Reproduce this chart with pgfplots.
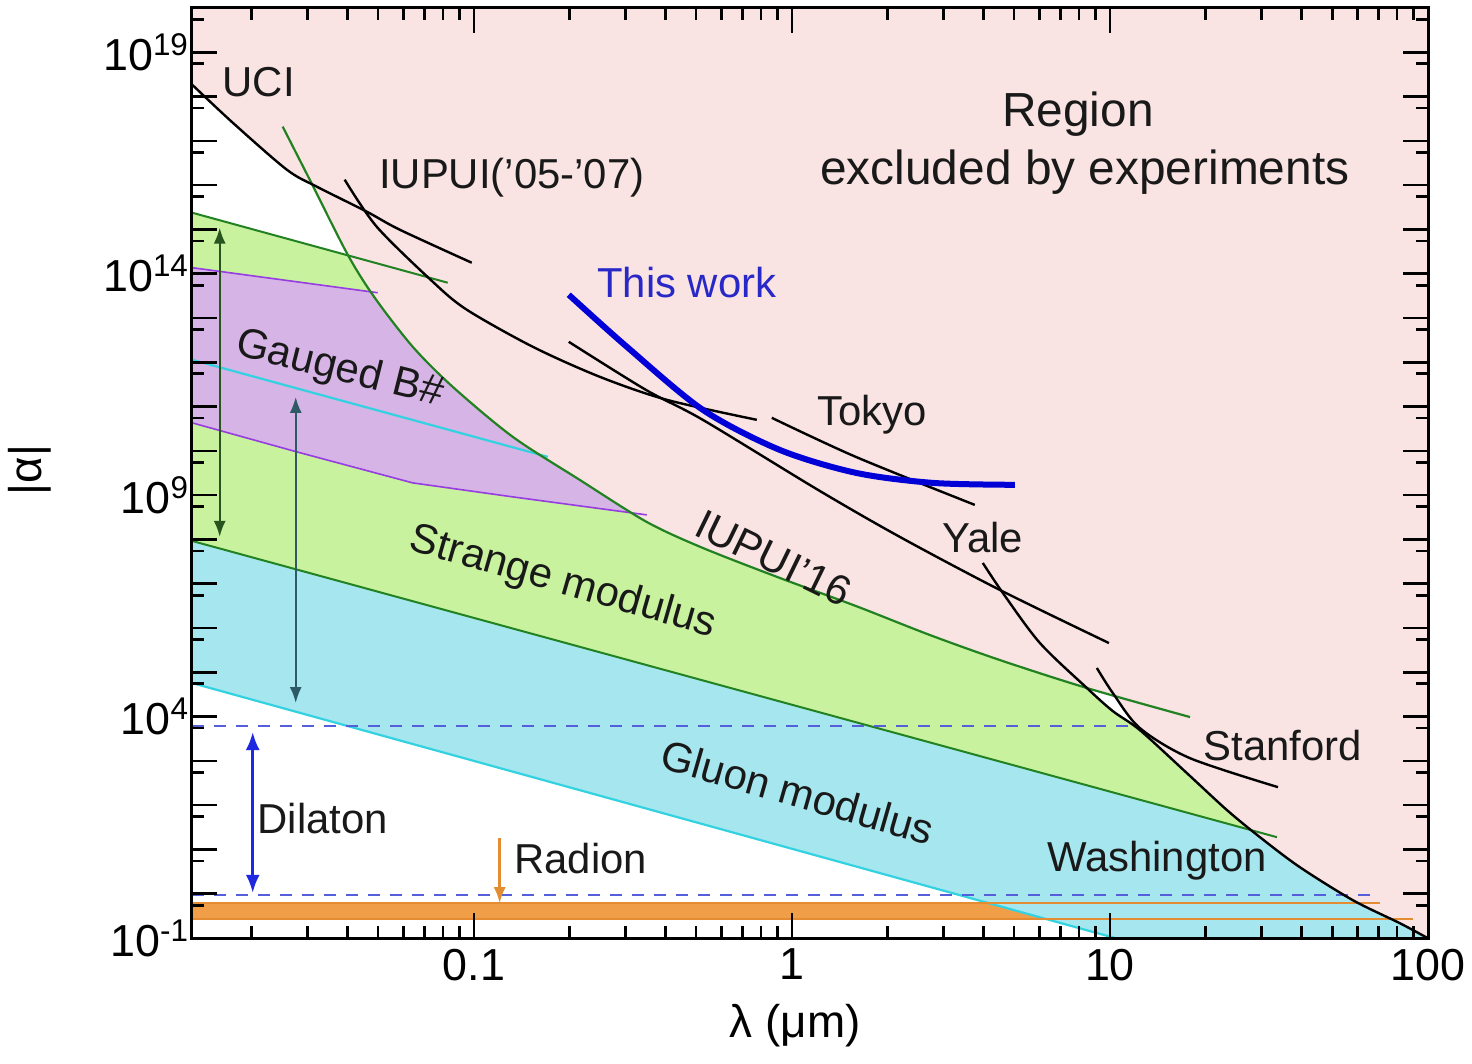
\documentclass[border=0pt]{standalone}
\usepackage{fontspec}
\setmainfont{Liberation Sans}
\usepackage{pgfplots}
\pgfplotsset{compat=1.18}
\usetikzlibrary{arrows.meta}

\definecolor{pinkfill}{RGB}{249,227,227}
\definecolor{greenfill}{RGB}{200,242,158}
\definecolor{cyanfill}{RGB}{166,230,238}
\definecolor{purplefill}{RGB}{214,180,230}
\definecolor{orangefill}{RGB}{240,158,72}
\definecolor{darkgreenline}{RGB}{34,130,34}
\definecolor{cyanline}{RGB}{50,210,225}
\definecolor{purpleline}{RGB}{150,60,225}
\definecolor{dashblue}{RGB}{85,95,220}
\definecolor{workblue}{RGB}{0,0,215}
\definecolor{worktext}{RGB}{40,40,200}
\definecolor{orangeline}{RGB}{228,140,50}
\definecolor{arrowgreen}{RGB}{40,85,30}
\definecolor{arrowslate}{RGB}{45,90,100}
\definecolor{dilblue}{RGB}{30,40,225}
\definecolor{textgray}{RGB}{25,25,25}

\begin{document}
\begin{tikzpicture}
\begin{axis}[
  xmode=log, ymode=log,
  width=618bp, height=465bp, scale only axis,
  xmin=0.013, xmax=100, ymin=0.1, ymax=1e20,
  axis on top,
  axis line style={line width=1.5bp},
  tick style={line width=1.3bp, black},
  major tick length=12.5bp, minor tick length=6bp,
  tick align=inside,
  xtick={0.1,1,10,100}, xticklabels={0.1,1,10,100},
  minor xtick={0.02,0.03,0.04,0.05,0.06,0.07,0.08,0.09,0.2,0.3,0.4,0.5,0.6,0.7,0.8,0.9,2,3,4,5,6,7,8,9,20,30,40,50,60,70,80,90},
  ytick={1e-1,1e0,1e1,1e2,1e3,1e4,1e5,1e6,1e7,1e8,1e9,1e10,1e11,1e12,1e13,1e14,1e15,1e16,1e17,1e18,1e19,1e20},
  yticklabels={10\textsuperscript{-1},,,,,10\textsuperscript{4},,,,,10\textsuperscript{9},,,,,10\textsuperscript{14},,,,,10\textsuperscript{19},},
  minor ytick={0.55,5.5,55,550,5500,5.5e4,5.5e5,5.5e6,5.5e7,5.5e8,5.5e9,5.5e10,5.5e11,5.5e12,5.5e13,5.5e14,5.5e15,5.5e16,5.5e17,5.5e18,5.5e19},
  tick label style={font=\fontsize{22.5}{26}\selectfont},
  xticklabel style={yshift=-2bp},
  yticklabel style={xshift=2bp},
  xlabel={λ (μm)}, ylabel={|α|},
  every axis x label/.style={at={(axis description cs:0.488,-0.094)},anchor=center,font=\fontsize{23}{27}\selectfont},
  every axis y label/.style={at={(axis description cs:-0.131,0.503)},anchor=center,rotate=90,font=\fontsize{23}{27}\selectfont},
]
\coordinate (SW) at (rel axis cs:0,0);
\coordinate (NE) at (rel axis cs:1,1);

% ---- fills ----
\addplot[draw=none, fill=orangefill] coordinates {(0.013,0.265) (100,0.265) (100,0.609) (0.013,0.609)};

\addplot[draw=none, fill=cyanfill] coordinates {
(0.013,1.14e12) (0.1708,7.33e9) (6.024,4.58e5) (8.465,4.41e4) (10.21,1.33e4) (12.42,4.95e3)
(17.46,528) (23.34,77.1) (29.62,18.9) (39.56,3.97) (58.06,0.713) (81.66,0.215) (100,0.0986)
(100,0.1) (10.36,0.1) (0.013,5.72e4)};

\addplot[draw=none, fill=greenfill] coordinates {
(0.013,2.39e15) (0.08279,6.26e13) (4.508,7.81e8) (6.024,4.58e5) (8.465,4.41e4) (10.21,1.33e4)
(12.42,4.95e3) (17.46,528) (23.34,77.1) (27.75,27.9) (0.013,9.25e7)};

\addplot[draw=none, fill=purplefill] coordinates {
(0.013,1.37e14) (0.04987,3.72e13) (0.3498,2.58e13) (0.3498,3.58e8) (0.1326,9.13e8)
(0.06427,1.89e9) (0.02774,9.50e9) (0.013,4.30e10)};

\addplot[draw=none, fill=pinkfill] coordinates {
(0.013,1e20) (0.013,1.87e18) (0.01745,2.58e17) (0.02581,2.24e16) (0.03093,1.08e16)
(0.04014,2.69e14) (0.04881,2.87e13) (0.06427,2.24e12) (0.08585,2.79e11) (0.1326,2.07e10)
(0.2153,2.21e9) (0.3498,2.48e8) (0.5247,6.43e7) (0.9163,1.35e7) (1.589,3.14e6)
(2.715,6.95e5) (4.508,1.89e5) (8.465,4.41e4) (10.14,3.22e4) (12.42,5.22e3)
(17.46,528) (23.34,77.1) (29.62,18.9) (39.56,3.97) (58.06,0.713) (81.66,0.215) (100,0.0986)
(100,1e20)};

% ---- band edges ----
\addplot[darkgreenline, line width=1bp] coordinates {(0.013,2.39e15) (0.08279,6.26e13)};
\addplot[darkgreenline, line width=1bp] coordinates {(0.013,9.25e7) (33.50,18.9)};
\addplot[cyanline, line width=1.1bp] coordinates {(0.013,1.14e12) (0.1708,7.33e9)};
\addplot[cyanline, line width=1.1bp] coordinates {(0.013,5.72e4) (10.36,0.1)};
\addplot[purpleline, line width=0.8bp] coordinates {(0.013,1.37e14) (0.04987,3.72e13)};
\addplot[purpleline, line width=0.8bp] coordinates {(0.013,4.30e10) (0.02774,9.50e9) (0.06427,1.89e9) (0.1326,9.13e8) (0.3498,3.58e8)};
\addplot[orangeline, line width=0.8bp] coordinates {(0.013,0.609) (70.6,0.609)};
\addplot[orangeline, line width=0.8bp] coordinates {(0.013,0.265) (89.7,0.265)};
\addplot[dashblue, line width=1.1bp, dash pattern=on 6bp off 5bp] coordinates {(0.013,6.1e3) (11.56,6.1e3)};
\addplot[dashblue, line width=1.1bp, dash pattern=on 6bp off 5bp] coordinates {(0.013,0.925) (69.6,0.925)};

% ---- IUPUI'16 ----
\addplot[darkgreenline, line width=1.1bp, smooth, tension=0.5] coordinates {
(0.02506,2.10e17) (0.03049,1.33e16) (0.04014,2.69e14) (0.04881,2.87e13) (0.06427,2.24e12)
(0.08585,2.79e11) (0.1326,2.07e10) (0.2153,2.21e9) (0.3498,2.48e8) (0.5247,6.43e7)
(0.9163,1.35e7) (1.589,3.14e6) (2.715,6.95e5) (4.508,1.89e5) (8.465,4.41e4) (17.85,9.75e3)};

% ---- experiments ----
\addplot[black, line width=1.2bp, smooth, tension=0.5] coordinates {(0.013,1.87e18) (0.01745,2.58e17) (0.02581,2.24e16) (0.03207,9.25e15) (0.04606,2.52e15) (0.05848,9.87e14) (0.09851,1.77e14)};
\addplot[black, line width=1.2bp, smooth, tension=0.5] coordinates {(0.03927,1.33e16) (0.04952,1.15e15) (0.07428,6.59e13) (0.09501,1.54e13) (0.1532,2.24e12) (0.2489,4.70e11) (0.4044,1.42e11) (0.7758,5.02e10)};
\addplot[black, line width=1.2bp, smooth, tension=0.5] coordinates {(0.1989,2.9e12) (0.3473,2.39e11) (0.5247,5.02e10) (1.207,1.32e9) (2.185,1.14e8) (4.508,7.23e6) (9.924,4.58e5)};
\addplot[black, line width=1.2bp, smooth, tension=0.5] coordinates {(0.8648,5.57e10) (1.589,7.31e9) (3.760,6.02e8)};
\addplot[black, line width=1.2bp, smooth, tension=0.5] coordinates {(3.985,2.94e7) (4.606,6.18e6) (6.024,4.58e5) (8.465,4.41e4) (10.21,1.33e4) (12.42,4.95e3) (17.46,528) (23.34,77.1) (29.62,18.9) (39.56,3.97) (58.06,0.713) (81.66,0.215) (100,0.0986)};
\addplot[black, line width=1.2bp, smooth, tension=0.5] coordinates {(9.098,1.25e5) (10.21,3.40e4) (12.42,5.5e3) (17.85,1.15e3) (33.75,255)};

% ---- this work ----
\addplot[workblue, line width=3bp, smooth] coordinates {(0.1989,3.35e13) (0.3027,2.24e12) (0.5247,8.45e10) (0.9163,1.05e10) (1.589,3.19e9) (2.775,1.89e9) (5.024,1.71e9)};

% ---- arrows ----
\addplot[dilblue, line width=1.3bp, arrows={Latex[length=9bp,width=7bp]-Latex[length=9bp,width=7bp]}] coordinates {(0.02018,1.05) (0.02018,4.47e3)};
\addplot[orangeline, line width=1.2bp, arrows={-Latex[length=8bp,width=6bp]}] coordinates {(0.1206,17.9) (0.1206,0.61)};
\addplot[arrowgreen, line width=1.1bp, arrows={Latex[length=8bp,width=6bp]-Latex[length=8bp,width=6bp]}] coordinates {(0.01589,1.1e15) (0.01589,1.14e8)};
\addplot[arrowslate, line width=1.1bp, arrows={Latex[length=8bp,width=6bp]-Latex[length=8bp,width=6bp]}] coordinates {(0.02755,1.66e11) (0.02755,2.02e4)};

% ---- labels ----
\begin{scope}[every node/.style={text=textgray, font=\fontsize{21}{25}\selectfont}]
\node at (axis cs:0.02107,2.07e18) {UCI};
\node at (axis cs:0.1316,1.48e16) {IUPUI(’05-’07)};
\node[font=\fontsize{24}{28}\selectfont] at (axis cs:7.93,3.92e17) {Region};
\node[font=\fontsize{24}{28}\selectfont] at (axis cs:8.34,1.92e16) {excluded by experiments};
\node[text=worktext] at (axis cs:0.4672,6.26e13) {This work};
\node at (axis cs:1.784,6.51e10) {Tokyo};
\node at (axis cs:3.985,1.08e8) {Yale};
\node at (axis cs:34.98,2.27e3) {Stanford};
\node at (axis cs:14.05,5.71) {Washington};
\node at (axis cs:0.03349,50.8) {Dilaton};
\node at (axis cs:0.2169,6.35) {Radion};
\node[rotate=-14] at (axis cs:0.03788,6.78e11) {Gauged B\#};
\node[rotate=-16] at (axis cs:0.1905,1.04e7) {Strange modulus};
\node[rotate=-26] at (axis cs:0.8775,3.82e7) {IUPUI’16};
\node[rotate=-16] at (axis cs:1.044,197) {Gluon modulus};
\end{scope}
\end{axis}
\pgfresetboundingbox
\useasboundingbox ([xshift=-96bp,yshift=-63bp]SW) rectangle ([xshift=22bp,yshift=4bp]NE);
\end{tikzpicture}
\end{document}
